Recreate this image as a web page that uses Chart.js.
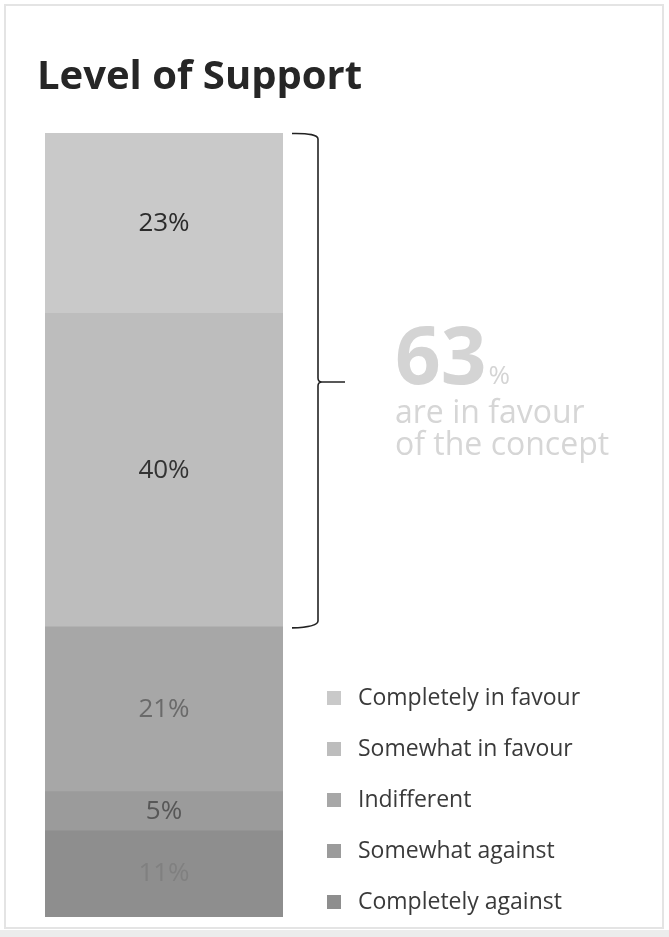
<!DOCTYPE html>
<html>
<head>
<meta charset="utf-8">
<script src="https://cdn.jsdelivr.net/npm/chart.js@4/dist/chart.umd.min.js"></script>
<style>
  html, body { margin: 0; padding: 0; background: #ffffff; }
  #wrap { width: 669px; height: 937px; position: relative; }
  canvas { display: block; }
</style>
</head>
<body>
<div id="wrap"><canvas id="c" width="669" height="937"></canvas></div>
<script>
// ---- Data ----
const categories = ['Level of Support'];
const seriesLabels = ['Completely against', 'Somewhat against', 'Indifferent', 'Somewhat in favour', 'Completely in favour'];
const seriesValues = [11, 5, 21, 40, 23];
const valueLabels = ['11%', '5%', '21%', '40%', '23%'];
const chartTitle = 'Level of Support';
const favourSeries = ['Somewhat in favour', 'Completely in favour'];
const favourLabel = ['63', '%'];
const favourText = ['are in favour', 'of the concept'];

// ---- Styles ----
const segColors = ['#8e8e8e', '#9b9b9b', '#a7a7a7', '#bdbdbd', '#c9c9c9'];
const labelColors = ['#808080', '#575757', '#6a6a6a', '#333333', '#2b2b2b'];
const FONT = '"Open Sans", "Liberation Sans", sans-serif';

const overlay = {
  id: 'overlay',
  beforeDraw(chart) {
    const ctx = chart.ctx;
    ctx.save();
    ctx.fillStyle = '#ffffff';
    ctx.fillRect(0, 0, chart.width, chart.height);
    // frame
    ctx.strokeStyle = '#e4e4e4';
    ctx.lineWidth = 2;
    ctx.strokeRect(5, 5, 658, 923);
    ctx.fillStyle = '#ececec';
    ctx.fillRect(0, 930, chart.width, 7);
    // title
    ctx.fillStyle = '#262626';
    ctx.font = 'bold 40px ' + FONT;
    ctx.textBaseline = 'alphabetic';
    ctx.textAlign = 'left';
    ctx.fillText(chartTitle, 37, 89);
    ctx.restore();
  },
  afterDatasetsDraw(chart) {
    const ctx = chart.ctx;
    const area = chart.chartArea;
    const yScale = chart.scales.y;
    ctx.save();
    // value labels
    ctx.textAlign = 'center';
    ctx.textBaseline = 'middle';
    chart.data.datasets.forEach((ds, i) => {
      const el = chart.getDatasetMeta(i).data[0];
      const cy = (el.y + el.base) / 2;
      ctx.fillStyle = labelColors[i];
      ctx.font = '26px ' + FONT;
      ctx.fillText(valueLabels[i], el.x, cy);
    });

    // bracket over favour series
    let lo = 0;
    for (let i = 0; i < seriesLabels.length; i++) {
      if (seriesLabels[i] === favourSeries[0]) break;
      lo += seriesValues[i];
    }
    let hi = lo;
    favourSeries.forEach(s => { hi += seriesValues[seriesLabels.indexOf(s)]; });
    const yTop = yScale.getPixelForValue(hi);
    const yBot = yScale.getPixelForValue(lo);
    const yMid = (yTop + yBot) / 2 + 2;
    const bx = area.right + 35;
    ctx.strokeStyle = '#222222';
    ctx.lineWidth = 1.6;
    ctx.beginPath();
    ctx.moveTo(bx - 26, yTop + 0.5);
    ctx.quadraticCurveTo(bx, yTop, bx, yTop + 6);
    ctx.lineTo(bx, yMid - 4);
    ctx.quadraticCurveTo(bx, yMid, bx + 4, yMid);
    ctx.lineTo(bx + 27, yMid);
    ctx.moveTo(bx + 4, yMid);
    ctx.quadraticCurveTo(bx, yMid, bx, yMid + 4);
    ctx.lineTo(bx, yBot - 6);
    ctx.quadraticCurveTo(bx, yBot, bx - 26, yBot + 1);
    ctx.stroke();

    // 63% annotation
    ctx.textAlign = 'left';
    ctx.textBaseline = 'alphabetic';
    ctx.fillStyle = '#d4d4d4';
    ctx.font = 'bold 80px ' + FONT;
    const tx = bx + 77;
    ctx.fillText(favourLabel[0], tx, yMid + 2);
    const w63 = ctx.measureText(favourLabel[0]).width;
    ctx.font = '26px ' + FONT;
    ctx.fillText(favourLabel[1], tx + w63 + 2, yMid + 2);
    ctx.font = '32px ' + FONT;
    ctx.fillStyle = '#d6d6d6';
    ctx.fillText(favourText[0], tx, yMid + 41);
    ctx.fillText(favourText[1], tx, yMid + 73);

    // legend (top to bottom: reverse of stack order)
    const lx = area.right + 44;
    let ly = 698;
    for (let i = seriesLabels.length - 1; i >= 0; i--) {
      ctx.fillStyle = segColors[i];
      ctx.fillRect(lx, ly - 7, 14, 14);
      ctx.fillStyle = '#3a3a3a';
      ctx.font = '23px ' + FONT;
      ctx.textBaseline = 'middle';
      ctx.fillText(seriesLabels[i], lx + 31, ly);
      ly += 51;
    }
    ctx.restore();
  }
};

new Chart(document.getElementById('c'), {
  type: 'bar',
  data: {
    labels: categories,
    datasets: seriesLabels.map((label, i) => ({
      label: label,
      data: [seriesValues[i]],
      backgroundColor: segColors[i],
      borderWidth: 0,
      barPercentage: 1,
      categoryPercentage: 1
    }))
  },
  options: {
    responsive: false,
    animation: false,
    devicePixelRatio: 1,
    layout: { padding: { left: 45, right: 386, top: 133, bottom: 20 } },
    scales: {
      x: { stacked: true, display: false },
      y: { stacked: true, display: false, min: 0, max: 100 }
    },
    plugins: {
      legend: { display: false },
      tooltip: { enabled: false },
      title: { display: false }
    }
  },
  plugins: [overlay]
});
</script>
</body>
</html>
